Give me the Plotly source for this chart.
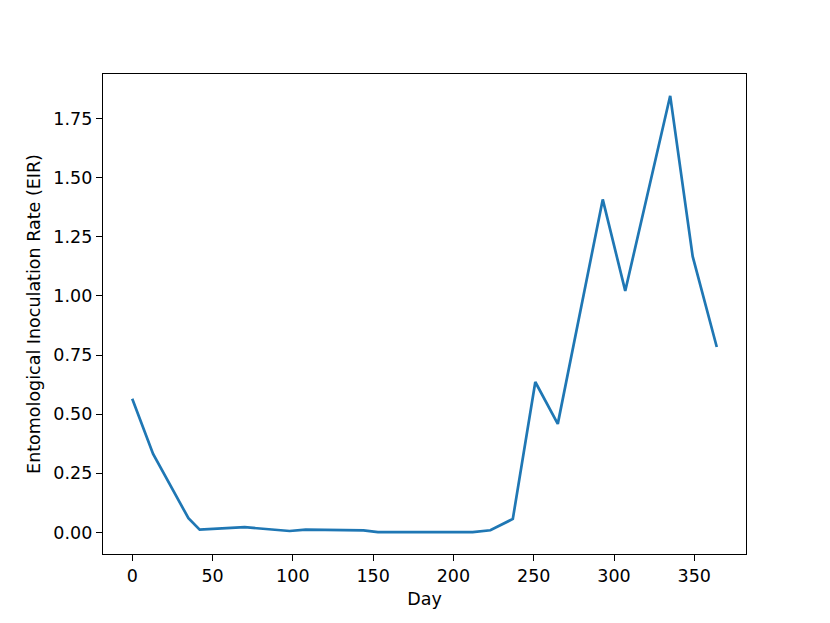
import plotly.graph_objects as go

days = [0, 13, 35, 42, 70, 98, 108, 144, 153, 212, 223, 237, 251, 265, 293, 307, 335, 349, 364]
eir = [0.565, 0.332, 0.060, 0.012, 0.022, 0.006, 0.012, 0.009, 0.001, 0.001, 0.009,
       0.057, 0.636, 0.459, 1.408, 1.021, 1.846, 1.167, 0.784]
x_ticks = [0, 50, 100, 150, 200, 250, 300, 350]
y_ticks = [0.0, 0.25, 0.5, 0.75, 1.0, 1.25, 1.5, 1.75]

fig = go.Figure(go.Scatter(x=days, y=eir, mode="lines",
                           line=dict(color="#1f77b4", width=2.7)))

font = dict(family="DejaVu Sans", size=17.5, color="black")
ax_common = dict(showline=True, linecolor="black", linewidth=1.4, mirror=True,
                 ticks="outside", ticklen=6, tickwidth=1.4, tickcolor="black",
                 showgrid=False, zeroline=False, tickfont=font)

xmin, xmax = min(days), max(days)
ymin, ymax = min(eir), max(eir)
xpad = (xmax - xmin) * 0.05
ypad = (ymax - ymin) * 0.05

fig.update_layout(
    width=822, height=615,
    margin=dict(l=95, r=84, t=66, b=69),
    paper_bgcolor="white", plot_bgcolor="white",
    showlegend=False,
    font=font,
    xaxis=dict(range=[xmin - xpad, xmax + xpad], tickvals=x_ticks,
               title=dict(text="Day", font=font, standoff=7), **ax_common),
    yaxis=dict(range=[ymin - ypad, ymax + ypad], tickvals=y_ticks, tickformat=".2f",
               title=dict(text="Entomological Inoculation Rate (EIR)", font=font, standoff=8),
               **ax_common),
)

fig.write_html("out.html")
